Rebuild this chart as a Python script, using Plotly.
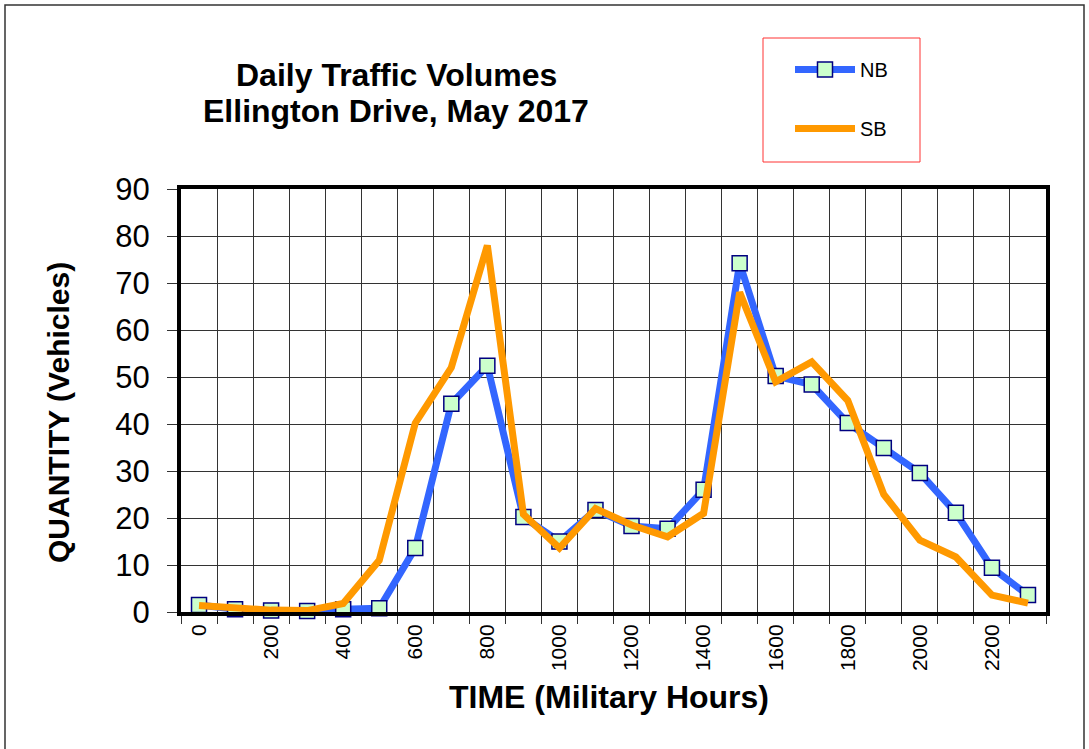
import plotly.graph_objects as go

hours = [0, 100, 200, 300, 400, 500, 600, 700, 800, 900, 1000, 1100,
         1200, 1300, 1400, 1500, 1600, 1700, 1800, 1900, 2000, 2100, 2200, 2300]
nb = [1.5, 0.6, 0.3, 0.2, 0.6, 0.8, 13.6, 44.3, 52.4, 20.2, 15.0, 21.7,
      18.3, 17.7, 26.0, 74.2, 50.2, 48.4, 40.2, 34.9, 29.6, 21.1, 9.4, 3.6]
sb = [1.4, 0.8, 0.4, 0.3, 1.8, 11.0, 40.2, 52.0, 78.0, 20.8, 13.6, 22.0,
      18.5, 16.0, 21.0, 68.0, 49.0, 53.2, 45.0, 25.0, 15.3, 11.7, 3.6, 1.9]
tick_hours = hours[::2]
tick_text = [str(h) for h in tick_hours]
title_lines = ["Daily Traffic Volumes", "Ellington Drive, May 2017"]

W, H = 1089, 749
L, R, T, B = 181, 43, 189, 137
pw, ph = W - L - R, H - T - B

def px(x):
    return (x - L) / pw

def py(y):
    return (H - B - y) / ph

fig = go.Figure()
fig.add_trace(go.Scatter(
    x=hours, y=nb, name="NB", mode="lines+markers",
    line=dict(color="#3366ff", width=7),
    marker=dict(symbol="square", size=15, color="#ccffcc",
                line=dict(color="#000080", width=1.5)),
    cliponaxis=False, legendgroup="a"))
fig.add_trace(go.Scatter(
    x=hours, y=sb, name="SB", mode="lines",
    line=dict(color="#ff9900", width=7),
    cliponaxis=False, legendgroup="b"))

fig.update_layout(
    width=W, height=H,
    margin=dict(l=L, r=R, t=T, b=B),
    paper_bgcolor="white", plot_bgcolor="white",
    font=dict(family="Arial, Liberation Sans, sans-serif", color="black"),
    showlegend=True,
    legend=dict(x=px(790), y=py(50), xanchor="left", yanchor="top",
                font=dict(size=20), bgcolor="rgba(0,0,0,0)",
                tracegroupgap=30, traceorder="grouped", itemwidth=60),
    xaxis=dict(range=[-50, 2350], tickmode="array", tickvals=tick_hours,
               ticktext=tick_text, tickangle=-90, ticks="",
               tickfont=dict(size=21), showgrid=False, zeroline=False,
               showline=True, linewidth=4, linecolor="black", mirror=True,
               minor=dict(tick0=-50, dtick=100, showgrid=True,
                          gridcolor="#333333", gridwidth=1.2,
                          ticks="outside", ticklen=8, tickcolor="#333333")),
    yaxis=dict(range=[0, 90], dtick=10, ticks="outside", ticklen=10,
               tickcolor="#333333", tickfont=dict(size=31),
               ticklabelstandoff=11,
               showgrid=True, gridcolor="#333333", gridwidth=1.2,
               zeroline=False, showline=True, linewidth=4,
               linecolor="black", mirror=True),
)

for line, ypix in zip(title_lines, [75, 111]):
    fig.add_annotation(text="<b>%s</b>" % line, xref="paper", yref="paper",
                       x=px(396), y=py(ypix), showarrow=False,
                       font=dict(size=32), xanchor="center", yanchor="middle")

fig.add_annotation(text="<b>QUANTITY (Vehicles)</b>", xref="paper", yref="paper",
                   x=px(58), y=py(412), textangle=-90, showarrow=False,
                   font=dict(size=30), xanchor="center", yanchor="middle")
fig.add_annotation(text="<b>TIME (Military Hours)</b>", xref="paper", yref="paper",
                   x=px(609), y=py(697), showarrow=False,
                   font=dict(size=32), xanchor="center", yanchor="middle")

fig.add_shape(type="rect", xref="paper", yref="paper",
              x0=px(763), x1=px(920), y0=py(162), y1=py(38),
              line=dict(color="#ff3333", width=1))
fig.add_shape(type="rect", xref="paper", yref="paper",
              x0=px(5), x1=px(1084), y0=py(760), y1=py(5),
              line=dict(color="#333333", width=1.5), layer="below")

fig.write_html("out.html",
               config={"displayModeBar": False},
               post_script="document.body.style.margin='0';"
                           "document.body.style.overflow='hidden';")
